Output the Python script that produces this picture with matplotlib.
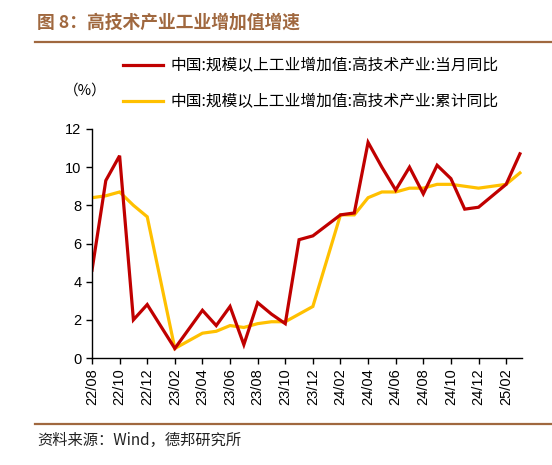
import numpy as np
import matplotlib
matplotlib.use('Agg')
import matplotlib.pyplot as plt
from matplotlib.lines import Line2D

plt.rcParams['font.family'] = ['Liberation Sans', 'Noto Sans CJK SC', 'DejaVu Sans']

# months 22/08 .. 25/03, January has no release (nan)
months = ['22/08', '22/09', '22/10', '22/11', '22/12', '23/01', '23/02', '23/03',
          '23/04', '23/05', '23/06', '23/07', '23/08', '23/09', '23/10', '23/11',
          '23/12', '24/01', '24/02', '24/03', '24/04', '24/05', '24/06', '24/07',
          '24/08', '24/09', '24/10', '24/11', '24/12', '25/01', '25/02', '25/03']
monthly_yoy = [4.6, 9.3, 10.6, 2.0, 2.8, np.nan, 0.5, 1.5,
               2.5, 1.7, 2.7, 0.7, 2.9, 2.3, 1.8, 6.2,
               6.4, np.nan, 7.5, 7.6, 11.3, 10.0, 8.8, 10.0,
               8.6, 10.1, 9.4, 7.8, 7.9, np.nan, 9.1, 10.7]
cumulative_yoy = [8.4, 8.5, 8.7, 8.0, 7.4, np.nan, 0.5, 0.9,
                  1.3, 1.4, 1.7, 1.6, 1.8, 1.9, 1.9, 2.3,
                  2.7, np.nan, 7.5, 7.5, 8.4, 8.7, 8.7, 8.9,
                  8.9, 9.1, 9.1, 9.0, 8.9, np.nan, 9.1, 9.7]
label_monthly = '中国:规模以上工业增加值:高技术产业:当月同比'
label_cum = '中国:规模以上工业增加值:高技术产业:累计同比'

RED = '#C00000'
YELLOW = '#FFC000'
BROWN = '#A0683F'
CJK = ['Noto Sans CJK SC', 'DejaVu Sans']

fig = plt.figure(figsize=(5.52, 4.65), dpi=100)
ax = fig.add_axes([92/552, 1-358/465, 430/552, 229/465])

x = np.arange(len(months))
for vals, col in [(cumulative_yoy, YELLOW), (monthly_yoy, RED)]:
    v = np.array(vals, dtype=float)
    ok = ~np.isnan(v)
    ax.plot(x[ok], v[ok], color=col, lw=2.3, solid_joinstyle='miter')

ax.set_xlim(0, 31.15)
ax.set_ylim(0, 12)
ax.set_yticks(range(0, 13, 2))
ax.set_xticks(x[::2])
ax.set_xticklabels(months[::2], rotation=90)
ax.tick_params(labelsize=10.5, length=4, width=1, colors='black')
for s in ['top', 'right']:
    ax.spines[s].set_visible(False)
for s in ['left', 'bottom']:
    ax.spines[s].set_linewidth(1)

# title and rules
fig.text(37/552, 1-23/465, '图 8：高技术产业工业增加值增速', fontsize=12.8, fontweight='bold',
         color=BROWN, family=CJK, va='center', ha='left')
fig.add_artist(Line2D([35/552, 1], [1-42/465, 1-42/465], color=BROWN, lw=1.6))
fig.add_artist(Line2D([35/552, 1], [1-424/465, 1-424/465], color=BROWN, lw=1.6))
fig.text(37/552, 1-440/465, '资料来源：Wind，德邦研究所', fontsize=11, color='#222222',
         family=CJK, va='center', ha='left')

# legend
for yy, col, lab in [(65.5, RED, label_monthly), (101.5, YELLOW, label_cum)]:
    fig.add_artist(Line2D([123/552, 163/552], [1-yy/465, 1-yy/465], color=col, lw=2.3))
    fig.text(170/552, 1-yy/465, lab, fontsize=11.3, family=CJK, va='center', ha='left')
fig.text(64/552, 1-91/465, '（%）', fontsize=10.5, family=CJK, va='center', ha='left')

fig.savefig('out.png', dpi=100)
